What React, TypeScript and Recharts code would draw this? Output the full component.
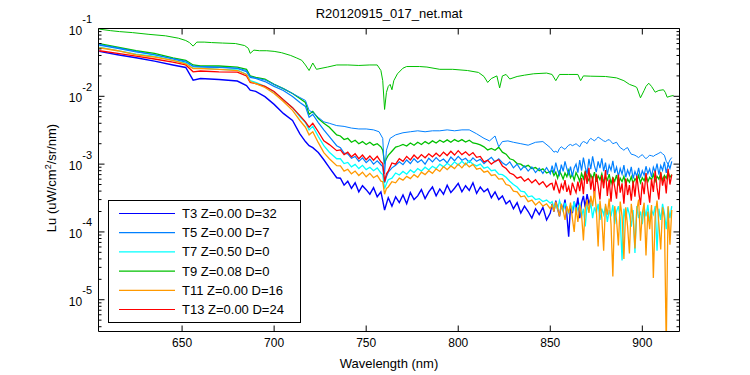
import React from 'react';
import { LineChart, Line, XAxis, YAxis } from 'recharts';

const W = 750;
const H = 375;
const PLOT = { left: 98.5, top: 28.5, right: 679.5, bottom: 331.5 };
const FONT = '"Liberation Sans", Arial, Helvetica, sans-serif';

// wavelength grid (nm) for the noisy cast spectra
const wavelengths = [
  605, 615, 625, 635, 645, 652, 656, 660, 670, 680,
  685, 687, 690, 695, 700, 705, 710, 714, 717, 719,
  721, 724, 727, 730, 734,
  736, 738, 740, 742, 744, 746, 748, 750, 752, 754, 756, 758,
  759, 760, 761,
  762, 764, 766, 768, 770, 772, 774, 776, 778, 780,
  782, 784, 786, 788, 790, 792, 794, 796, 798, 800,
  802, 804, 806, 808, 810, 812, 814, 816, 818, 820,
  822, 824, 826, 828, 830, 832, 834, 836, 838, 840,
  842, 844, 846, 848, 850,
  851, 852, 853, 854, 855, 856, 857, 858, 859, 860,
  861, 862, 863, 864, 865, 866, 867, 868, 869, 870,
  871, 872, 873, 874, 875, 876, 877, 878, 879, 880,
  881, 882, 883, 884, 885, 886, 887, 888, 889, 890,
  891, 892, 893, 894, 895, 896, 897, 898, 899, 900,
  901, 902, 903, 904, 905, 906, 907, 908, 909, 910,
  911, 912, 913, 914, 915, 916,
];

// T3 stops at 872 nm
const t3Values = [
  4.6e-2, 4.1e-2, 3.7e-2, 3.3e-2, 2.9e-2, 2.66e-2, 1.73e-2, 1.83e-2, 1.77e-2, 1.68e-2,
  1.44e-2, 1.23e-2, 1.18e-2, 9.9e-3, 7.6e-3, 5.6e-3, 4.4e-3, 2.8e-3, 2.15e-3, 1.87e-3,
  1.75e-3, 1.48e-3, 1.16e-3, 8.9e-4, 6.3e-4,
  6.2e-4, 4.9e-4, 5.6e-4, 4.4e-4, 5.3e-4, 3.9e-4, 4.8e-4, 4.2e-4, 3.6e-4, 4.5e-4, 3.3e-4, 3.9e-4,
  2.9e-4, 2.1e-4, 2.6e-4,
  3.2e-4, 2.4e-4, 3.3e-4, 2.7e-4, 3.5e-4, 2.6e-4, 3.8e-4, 3.0e-4, 3.4e-4, 4.2e-4,
  3.1e-4, 3.9e-4, 4.6e-4, 3.4e-4, 4.3e-4, 3.6e-4, 4.9e-4, 3.8e-4, 4.4e-4, 5.2e-4,
  3.9e-4, 4.8e-4, 4.1e-4, 5.3e-4, 3.7e-4, 4.6e-4, 3.9e-4, 4.3e-4, 3.2e-4, 3.9e-4,
  3.0e-4, 3.4e-4, 2.6e-4, 2.9e-4, 2.2e-4, 2.7e-4, 1.9e-4, 2.4e-4, 2.0e-4, 1.6e-4,
  2.2e-4, 1.8e-4, 2.3e-4, 1.5e-4, 1.9e-4,
  2.6e-4, 2.0e-4, 2.9e-4, 2.2e-4, 1.7e-4, 2.5e-4, 2.1e-4, 3.0e-4, 1.8e-4, 8.5e-5,
  2.4e-4, 1.9e-4, 2.8e-4, 2.2e-4, 3.2e-4, 1.6e-4, 2.7e-4, 3.4e-4, 2.3e-4, 3.6e-4,
  2.6e-4, 3.1e-4,
];

const t5Values = [
  5.7e-2, 5.1e-2, 4.5e-2, 4.1e-2, 3.55e-2, 3.2e-2, 2.75e-2, 2.7e-2, 2.66e-2, 2.57e-2,
  2.3e-2, 1.9e-2, 1.83e-2, 1.65e-2, 1.4e-2, 1.22e-2, 9.9e-3, 8.1e-3, 7.1e-3, 4.9e-3,
  5.4e-3, 4.1e-3, 3.2e-3, 2.55e-3, 1.87e-3,
  1.75e-3, 1.45e-3, 1.42e-3, 1.22e-3, 1.3e-3, 1.1e-3, 1.24e-3, 1.05e-3, 1.18e-3, 1.0e-3, 1.12e-3, 9.8e-4,
  9.2e-4, 5.3e-4, 6.5e-4,
  7.6e-4, 8.8e-4, 9.6e-4, 1.08e-3, 9.8e-4, 1.15e-3, 1.02e-3, 1.2e-3, 1.06e-3, 1.16e-3,
  1.0e-3, 1.22e-3, 1.08e-3, 1.25e-3, 1.1e-3, 1.19e-3, 1.04e-3, 1.27e-3, 1.12e-3, 1.3e-3,
  1.14e-3, 1.22e-3, 1.06e-3, 1.24e-3, 1.1e-3, 1.18e-3, 1.02e-3, 1.14e-3, 1.26e-3, 1.08e-3,
  1.2e-3, 1.05e-3, 9.6e-4, 1.08e-3, 8.8e-4, 1.0e-3, 8.2e-4, 9.4e-4, 7.9e-4, 9.1e-4,
  7.5e-4, 8.7e-4, 7.3e-4, 8.9e-4, 7.2e-4,
  9.5e-4, 7.4e-4, 1.05e-3, 8.2e-4, 6.9e-4, 9.8e-4, 7.8e-4, 1.1e-3, 8.6e-4, 7.1e-4,
  9.2e-4, 6.6e-4, 8.8e-4, 1.0e-3, 7.5e-4, 1.15e-3, 8.0e-4, 1.25e-3, 9.0e-4, 7.2e-4,
  1.2e-3, 8.4e-4, 1.3e-3, 9.4e-4, 7.6e-4, 1.1e-3, 8.7e-4, 1.22e-3, 7.9e-4, 1.05e-3,
  7.0e-4, 9.6e-4, 8.1e-4, 1.12e-3, 7.4e-4, 9.0e-4, 6.6e-4, 8.6e-4, 7.1e-4, 9.7e-4,
  6.4e-4, 8.2e-4, 6.9e-4, 9.1e-4, 6.1e-4, 7.8e-4, 6.6e-4, 8.8e-4, 6.3e-4, 8.0e-4,
  6.8e-4, 9.3e-4, 7.2e-4, 8.5e-4, 6.5e-4, 9.0e-4, 7.6e-4, 1.02e-3, 7.0e-4, 9.5e-4,
  8.1e-4, 1.08e-3, 7.4e-4, 1.0e-3, 8.6e-4, 1.1e-3,
];

const t7Values = [
  5.3e-2, 4.7e-2, 4.2e-2, 3.9e-2, 3.4e-2, 3.1e-2, 2.6e-2, 2.6e-2, 2.5e-2, 2.45e-2,
  2.1e-2, 1.7e-2, 1.6e-2, 1.4e-2, 1.16e-2, 8.9e-3, 6.8e-3, 5.0e-3, 4.1e-3, 3.2e-3,
  3.6e-3, 2.55e-3, 1.87e-3, 1.5e-3, 1.2e-3,
  1.2e-3, 1.02e-3, 1.06e-3, 9.1e-4, 9.9e-4, 8.6e-4, 9.6e-4, 8.3e-4, 9.0e-4, 8.0e-4, 8.8e-4, 7.4e-4,
  7.0e-4, 4.35e-4, 5.15e-4,
  5.9e-4, 6.2e-4, 7.4e-4, 6.9e-4, 7.8e-4, 7.1e-4, 8.2e-4, 7.5e-4, 8.6e-4, 7.9e-4,
  9.0e-4, 8.2e-4, 9.3e-4, 8.6e-4, 1.0e-3, 9.1e-4, 1.03e-3, 9.4e-4, 1.08e-3, 9.7e-4,
  1.1e-3, 9.8e-4, 1.12e-3, 1.0e-3, 9.4e-4, 1.0e-3, 8.7e-4, 9.1e-4, 8.0e-4, 8.2e-4,
  7.1e-4, 7.0e-4, 6.4e-4, 5.6e-4, 5.0e-4, 4.6e-4, 4.0e-4, 3.9e-4, 3.3e-4, 3.4e-4,
  3.0e-4, 3.1e-4, 2.8e-4, 2.95e-4, 2.65e-4,
  2.8e-4, 2.3e-4, 2.6e-4, 2.1e-4, 2.9e-4, 2.4e-4, 2.0e-4, 2.7e-4, 2.2e-4, 1.9e-4,
  2.5e-4, 2.1e-4, 2.8e-4, 1.8e-4, 2.3e-4, 2.6e-4, 1.7e-4, 2.2e-4, 1.2e-4, 2.5e-4,
  2.0e-4, 2.7e-4, 1.6e-4, 2.3e-4, 1.9e-4, 2.6e-4, 1.5e-4, 2.2e-4, 1.8e-4, 2.4e-4,
  1.4e-4, 2.1e-4, 1.7e-4, 2.5e-4, 1.3e-4, 2.0e-4, 2.4e-4, 1.6e-4, 3.8e-5, 2.2e-4,
  1.5e-4, 2.3e-4, 1.8e-4, 1.2e-4, 2.1e-4, 4.9e-5, 2.4e-4, 1.6e-4, 2.0e-4, 1.3e-4,
  2.3e-4, 1.7e-4, 2.5e-4, 1.4e-4, 2.1e-4, 1.8e-4, 2.4e-4, 5.3e-5, 2.2e-4, 1.5e-4,
  2.6e-4, 1.9e-4, 1.1e-4, 2.3e-4, 1.6e-4, 2.4e-4,
];

const t9Values = [
  6.0e-2, 5.3e-2, 4.7e-2, 4.3e-2, 3.7e-2, 3.4e-2, 2.9e-2, 2.8e-2, 2.8e-2, 2.7e-2,
  2.5e-2, 2.0e-2, 1.9e-2, 1.8e-2, 1.5e-2, 1.3e-2, 1.1e-2, 9.3e-3, 8.1e-3, 5.4e-3,
  6.0e-3, 4.7e-3, 4.0e-3, 3.5e-3, 2.7e-3,
  2.6e-3, 2.3e-3, 2.4e-3, 2.1e-3, 2.25e-3, 2.0e-3, 2.15e-3, 1.95e-3, 2.1e-3, 1.9e-3, 2.0e-3, 1.8e-3,
  1.6e-3, 1.05e-3, 1.2e-3,
  1.35e-3, 1.55e-3, 1.78e-3, 1.85e-3, 1.95e-3, 1.85e-3, 2.05e-3, 1.9e-3, 2.1e-3, 1.95e-3,
  2.15e-3, 2.0e-3, 2.2e-3, 2.05e-3, 2.25e-3, 2.1e-3, 2.28e-3, 2.1e-3, 2.3e-3, 2.15e-3,
  2.3e-3, 2.12e-3, 2.25e-3, 2.05e-3, 2.0e-3, 1.92e-3, 1.8e-3, 1.62e-3, 1.7e-3, 1.6e-3,
  1.78e-3, 1.5e-3, 1.4e-3, 1.2e-3, 1.15e-3, 1.02e-3, 1.0e-3, 9.1e-4, 9.6e-4, 8.6e-4,
  8.9e-4, 8.0e-4, 8.5e-4, 7.4e-4, 7.8e-4,
  8.0e-4, 6.8e-4, 7.6e-4, 6.2e-4, 7.9e-4, 7.0e-4, 6.0e-4, 7.4e-4, 6.5e-4, 8.1e-4,
  6.3e-4, 7.1e-4, 5.8e-4, 7.5e-4, 6.6e-4, 5.6e-4, 7.3e-4, 6.1e-4, 7.8e-4, 6.4e-4,
  5.7e-4, 7.0e-4, 6.0e-4, 7.6e-4, 5.5e-4, 6.7e-4, 5.9e-4, 7.2e-4, 5.4e-4, 6.5e-4,
  5.8e-4, 7.1e-4, 5.2e-4, 6.3e-4, 5.6e-4, 6.9e-4, 5.1e-4, 6.2e-4, 5.5e-4, 6.6e-4,
  5.0e-4, 6.0e-4, 5.4e-4, 6.5e-4, 5.2e-4, 6.1e-4, 5.6e-4, 6.8e-4, 5.3e-4, 6.3e-4,
  5.7e-4, 6.9e-4, 5.5e-4, 6.4e-4, 5.9e-4, 7.1e-4, 5.6e-4, 6.6e-4, 6.0e-4, 7.3e-4,
  5.8e-4, 6.8e-4, 6.2e-4, 7.6e-4, 6.4e-4, 7.0e-4,
];

const t11Values = [
  5.2e-2, 4.7e-2, 4.1e-2, 3.8e-2, 3.4e-2, 3.0e-2, 2.57e-2, 2.57e-2, 2.5e-2, 2.4e-2,
  2.1e-2, 1.65e-2, 1.54e-2, 1.35e-2, 1.1e-2, 8.4e-3, 6.2e-3, 4.4e-3, 3.5e-3, 2.7e-3,
  3.0e-3, 2.07e-3, 1.48e-3, 1.2e-3, 9.5e-4,
  9.4e-4, 7.9e-4, 8.4e-4, 7.2e-4, 7.9e-4, 6.8e-4, 7.6e-4, 6.5e-4, 7.3e-4, 6.3e-4, 6.8e-4, 5.6e-4,
  5.5e-4, 3.6e-4, 4.35e-4,
  4.6e-4, 5.5e-4, 5.3e-4, 6.2e-4, 5.8e-4, 6.6e-4, 6.1e-4, 7.0e-4, 6.4e-4, 7.6e-4,
  7.0e-4, 8.0e-4, 7.3e-4, 8.5e-4, 7.8e-4, 9.2e-4, 8.3e-4, 9.4e-4, 8.6e-4, 1.0e-3,
  8.8e-4, 1.03e-3, 9.1e-4, 9.9e-4, 8.4e-4, 8.7e-4, 7.6e-4, 7.9e-4, 6.8e-4, 7.0e-4,
  6.0e-4, 6.1e-4, 5.0e-4, 4.8e-4, 4.0e-4, 3.9e-4, 3.3e-4, 3.4e-4, 2.8e-4, 2.95e-4,
  2.5e-4, 2.8e-4, 2.4e-4, 2.6e-4, 2.2e-4,
  2.5e-4, 2.0e-4, 2.8e-4, 2.2e-4, 1.7e-4, 2.6e-4, 2.1e-4, 1.5e-4, 2.4e-4, 1.9e-4,
  2.7e-4, 1.6e-4, 1.0e-4, 2.3e-4, 1.4e-4, 2.5e-4, 1.8e-4, 7.5e-5, 2.2e-4, 3.0e-4,
  1.9e-4, 3.4e-4, 2.4e-4, 4.0e-4, 2.2e-4, 6.1e-5, 2.9e-4, 1.6e-4, 5.3e-5, 2.6e-4,
  1.8e-4, 3.1e-4, 1.3e-4, 2.2e-5, 2.4e-4, 1.5e-4, 6.3e-5, 2.8e-4, 1.7e-4, 4.0e-5,
  2.3e-4, 1.2e-4, 4.8e-5, 2.6e-4, 1.6e-4, 5.7e-5, 2.1e-4, 3.0e-4, 7.4e-5, 1.9e-4,
  2.7e-4, 4.5e-5, 2.0e-4, 1.1e-4, 2.5e-4, 2.1e-5, 1.8e-4, 2.9e-4, 1.3e-4, 5.5e-5,
  2.3e-4, 1.6e-4, 2.0e-6, 2.4e-4, 6.5e-5, 2.1e-4,
];

const t13Values = [
  4.7e-2, 4.3e-2, 3.9e-2, 3.55e-2, 3.2e-2, 2.9e-2, 2.3e-2, 2.36e-2, 2.3e-2, 2.28e-2,
  2.0e-2, 1.6e-2, 1.54e-2, 1.4e-2, 1.18e-2, 8.9e-3, 6.8e-3, 5.2e-3, 4.2e-3, 3.5e-3,
  4.0e-3, 3.0e-3, 2.2e-3, 1.94e-3, 1.58e-3,
  1.62e-3, 1.38e-3, 1.5e-3, 1.28e-3, 1.42e-3, 1.2e-3, 1.36e-3, 1.16e-3, 1.32e-3, 1.14e-3, 1.3e-3, 1.08e-3,
  1.02e-3, 5.5e-4, 7.2e-4,
  7.9e-4, 1.04e-3, 1.0e-3, 1.2e-3, 1.1e-3, 1.3e-3, 1.15e-3, 1.36e-3, 1.2e-3, 1.38e-3,
  1.24e-3, 1.42e-3, 1.28e-3, 1.45e-3, 1.3e-3, 1.5e-3, 1.34e-3, 1.55e-3, 1.36e-3, 1.58e-3,
  1.38e-3, 1.52e-3, 1.34e-3, 1.48e-3, 1.26e-3, 1.3e-3, 1.08e-3, 1.14e-3, 1.0e-3, 1.1e-3,
  1.16e-3, 9.4e-4, 8.6e-4, 7.4e-4, 7.0e-4, 6.2e-4, 6.5e-4, 5.6e-4, 6.1e-4, 5.3e-4,
  5.9e-4, 5.0e-4, 5.5e-4, 4.6e-4, 5.1e-4,
  5.2e-4, 4.1e-4, 5.6e-4, 4.6e-4, 3.7e-4, 5.0e-4, 4.3e-4, 5.8e-4, 3.9e-4, 4.7e-4,
  3.5e-4, 5.3e-4, 4.4e-4, 3.8e-4, 5.5e-4, 4.0e-4, 6.2e-4, 3.6e-4, 7.8e-4, 5.1e-4,
  8.8e-4, 4.2e-4, 6.6e-4, 3.3e-4, 7.2e-4, 4.8e-4, 3.0e-4, 6.9e-4, 4.4e-4, 8.2e-4,
  3.4e-4, 5.9e-4, 2.8e-4, 6.4e-4, 4.6e-4, 3.1e-4, 7.0e-4, 3.8e-4, 5.2e-4, 2.6e-4,
  6.1e-4, 3.5e-4, 4.9e-4, 2.9e-4, 5.6e-4, 3.3e-4, 6.8e-4, 4.0e-4, 2.5e-4, 5.4e-4,
  3.6e-4, 7.4e-4, 4.3e-4, 2.7e-4, 6.0e-4, 3.9e-4, 8.0e-4, 4.5e-4, 3.0e-4, 7.6e-4,
  4.8e-4, 6.6e-4, 3.7e-4, 8.5e-4, 5.0e-4, 7.0e-4,
];

// the smoother upper T5 spectrum is sampled more coarsely
const thinWavelengths = [
  605, 615, 625, 635, 645, 652, 656, 660, 670, 680,
  685, 687, 690, 695, 700, 705, 710, 714, 717, 719,
  721, 724, 727, 730, 734, 738, 742, 746, 750, 754,
  757, 759, 760, 761, 763, 766, 770, 774, 778, 782,
  786, 790, 794, 798, 802, 806, 810, 814, 817, 820,
  822, 824, 827, 830, 834, 838, 842, 846, 850,
  851, 852, 853, 854, 855, 856, 857, 858, 859, 860,
  861, 862, 863, 864, 865, 866, 867, 868, 869, 870,
  871, 872, 873, 874, 875, 876, 877, 878, 879, 880,
  881, 882, 883, 884, 885, 886, 887, 888, 889, 890,
  891, 892, 893, 894, 895, 896, 897, 898, 899, 900,
  901, 902, 903, 904, 905, 906, 907, 908, 909, 910,
  911, 912, 913, 914, 915, 916,
];
const t5bValues = [
  5.8e-2, 5.2e-2, 4.6e-2, 4.1e-2, 3.6e-2, 3.3e-2, 2.8e-2, 2.75e-2, 2.7e-2, 2.6e-2,
  2.4e-2, 1.96e-2, 1.86e-2, 1.74e-2, 1.5e-2, 1.3e-2, 1.1e-2, 9.6e-3, 8.7e-3, 6.2e-3,
  5.8e-3, 4.9e-3, 4.2e-3, 4.0e-3, 3.7e-3, 3.6e-3, 3.4e-3, 3.3e-3, 3.3e-3, 3.2e-3,
  3.0e-3, 2.4e-3, 7.2e-4, 1.6e-3, 2.4e-3, 2.7e-3, 2.9e-3, 3.0e-3, 3.1e-3, 3.0e-3,
  3.1e-3, 3.1e-3, 3.2e-3, 3.1e-3, 3.2e-3, 3.2e-3, 2.8e-3, 2.4e-3, 2.2e-3, 2.6e-3,
  1.8e-3, 2.15e-3, 2.2e-3, 2.1e-3, 2.0e-3, 1.9e-3, 2.1e-3, 2.15e-3, 1.75e-3,
  1.62e-3, 1.5e-3, 1.55e-3, 1.48e-3, 1.7e-3, 1.8e-3, 1.72e-3, 1.65e-3, 1.78e-3, 1.9e-3,
  1.95e-3, 1.87e-3, 1.93e-3, 2.0e-3, 1.9e-3, 1.8e-3, 2.05e-3, 2.15e-3, 2.1e-3, 2.0e-3,
  2.25e-3, 2.4e-3, 2.3e-3, 2.2e-3, 2.35e-3, 2.5e-3, 2.4e-3, 2.3e-3, 2.2e-3, 2.15e-3,
  2.25e-3, 2.3e-3, 2.15e-3, 2.0e-3, 2.05e-3, 2.1e-3, 1.9e-3, 1.75e-3, 1.68e-3, 1.6e-3,
  1.7e-3, 1.75e-3, 1.55e-3, 1.4e-3, 1.38e-3, 1.35e-3, 1.3e-3, 1.25e-3, 1.32e-3, 1.38e-3,
  1.28e-3, 1.2e-3, 1.28e-3, 1.35e-3, 1.33e-3, 1.3e-3, 1.36e-3, 1.4e-3, 1.45e-3, 1.5e-3,
  1.42e-3, 1.35e-3, 1.1e-3, 1.0e-3, 1.15e-3, 1.25e-3,
];

// the coarse upper green spectrum has its own wavelengths
const refWavelengths = [
  605, 611, 616, 623, 632, 641, 648, 652, 654, 656,
  658, 662, 666, 672, 679, 684, 686, 687, 689, 692,
  696, 700, 704, 709, 712, 715, 717, 719, 721, 723,
  726, 729, 734, 740, 746, 752, 756, 758, 759, 760,
  761, 762, 763, 764, 765, 767, 770, 772, 779, 783,
  790, 797, 805, 811, 814, 816, 818, 821, 822.5, 824,
  826, 828, 832, 836, 841, 848, 851, 853, 855, 860,
  865, 866.5, 868, 872, 880, 886, 890, 893, 896, 897,
  899, 901, 902, 903.5, 905, 907, 909, 911.5, 912.5, 913.5,
  915, 917,
];
const t9RefValues = [
  9.8e-2, 9.3e-2, 9.0e-2, 8.7e-2, 8.2e-2, 7.8e-2, 7.2e-2, 6.65e-2, 6.2e-2, 5.5e-2,
  6.3e-2, 6.3e-2, 6.2e-2, 6.1e-2, 6.0e-2, 5.6e-2, 5.1e-2, 4.3e-2, 4.8e-2, 4.7e-2,
  4.7e-2, 4.6e-2, 4.4e-2, 4.0e-2, 3.7e-2, 3.4e-2, 2.9e-2, 2.4e-2, 3.1e-2, 2.5e-2,
  2.6e-2, 2.7e-2, 2.9e-2, 2.9e-2, 2.85e-2, 2.9e-2, 2.9e-2, 2.4e-2, 1.7e-2, 6.4e-3,
  1.14e-2, 1.4e-2, 1.5e-2, 1.25e-2, 1.7e-2, 2.15e-2, 2.6e-2, 2.75e-2, 2.75e-2, 2.7e-2,
  2.5e-2, 2.5e-2, 2.4e-2, 2.25e-2, 1.96e-2, 1.6e-2, 1.83e-2, 2.0e-2, 1.33e-2, 2.0e-2,
  2.1e-2, 1.8e-2, 1.96e-2, 2.05e-2, 2.15e-2, 2.2e-2, 2.1e-2, 1.7e-2, 2.1e-2, 2.1e-2,
  2.1e-2, 1.7e-2, 2.0e-2, 1.98e-2, 1.96e-2, 1.87e-2, 1.7e-2, 1.5e-2, 1.4e-2, 1.35e-2,
  9.5e-3, 1.22e-2, 1.4e-2, 1.56e-2, 1.4e-2, 1.15e-2, 1.22e-2, 1.25e-2, 1.14e-2, 9.7e-3,
  1.0e-2, 1.03e-2,
];

const xTicks = [650, 700, 750, 800, 850, 900];
const yDecades = [1e-6, 1e-5, 1e-4, 1e-3, 1e-2, 1e-1];
const minorSteps = [2, 3, 4, 5, 6, 7, 8, 9];
const X_DOMAIN: [number, number] = [604.6, 920.2];
const Y_DOMAIN: [number, number] = [3.4e-6, 0.1];

const yTicks: number[] = [];
yDecades.forEach((d) => {
  if (d >= Y_DOMAIN[0]) yTicks.push(d);
  if (d < Y_DOMAIN[1]) {
    minorSteps.forEach((m) => {
      const v = m * d;
      if (v >= Y_DOMAIN[0] && v <= Y_DOMAIN[1]) yTicks.push(v);
    });
  }
});

const isMajor = (v: number) => Math.abs(Math.log10(v) - Math.round(Math.log10(v))) < 1e-9;

const legendItems = [
  { label: 'T3 Z=0.00 D=32', color: '#0000ff' },
  { label: 'T5 Z=0.00 D=7', color: '#0080ff' },
  { label: 'T7 Z=0.50 D=0', color: '#00ffff' },
  { label: 'T9 Z=0.08 D=0', color: '#00c000' },
  { label: 'T11 Z=0.00 D=16', color: '#ff9900' },
  { label: 'T13 Z=0.00 D=24', color: '#ff0000' },
];

const series = [
  { key: 't9ref', color: '#00c000', x: refWavelengths, y: t9RefValues, w: 1 },
  { key: 't9', color: '#00c000', x: wavelengths, y: t9Values, w: 1.3 },
  { key: 't5', color: '#0080ff', x: wavelengths, y: t5Values, w: 1.2 },
  { key: 't5b', color: '#0080ff', x: thinWavelengths, y: t5bValues, w: 1 },
  { key: 't3', color: '#0000ff', x: wavelengths, y: t3Values, w: 1.4 },
  { key: 't7', color: '#00ffff', x: wavelengths, y: t7Values, w: 1.3 },
  { key: 't13', color: '#ff0000', x: wavelengths, y: t13Values, w: 1.3 },
  { key: 't11', color: '#ff9900', x: wavelengths, y: t11Values, w: 1.3 },
];

const BottomTick = (props: any) => {
  const { x, payload } = props;
  return (
    <g>
      <line x1={x} x2={x} y1={PLOT.bottom} y2={PLOT.bottom - 6} stroke="#000" />
      <text x={x} y={347} textAnchor="middle" fontSize={12} fontFamily={FONT} fill="#000">
        {payload.value}
      </text>
    </g>
  );
};

const TopTick = (props: any) => {
  const { x } = props;
  return <line x1={x} x2={x} y1={PLOT.top} y2={PLOT.top + 6} stroke="#000" />;
};

const LeftTick = (props: any) => {
  const { y, payload } = props;
  const v = payload.value;
  const major = isMajor(v);
  return (
    <g>
      <line x1={PLOT.left} x2={PLOT.left + (major ? 6 : 3)} y1={y} y2={y} stroke="#000" />
      {major && (
        <text x={92} y={y + 6} textAnchor="end" fontSize={12} fontFamily={FONT} fill="#000">
          <tspan>10</tspan>
          <tspan dy={-11.5} fontSize={11}>{String(Math.round(Math.log10(v)))}</tspan>
        </text>
      )}
    </g>
  );
};

const RightTick = (props: any) => {
  const { y, payload } = props;
  const major = isMajor(payload.value);
  return <line x1={PLOT.right} x2={PLOT.right - (major ? 6 : 3)} y1={y} y2={y} stroke="#000" />;
};

export default function App() {
  return (
    <div style={{ position: 'absolute', left: 0, top: 0, width: W, height: H, background: '#fff' }}>
      <LineChart width={W} height={H} margin={{ top: 0, right: 0, bottom: 13.5, left: 38.5 }}>
        <XAxis
          xAxisId="b"
          type="number"
          dataKey="wl"
          domain={X_DOMAIN}
          ticks={xTicks}
          interval={0}
          allowDataOverflow
          height={30}
          axisLine={{ stroke: '#000' }}
          tickLine={false}
          tick={BottomTick}
        />
        <XAxis
          xAxisId="t"
          orientation="top"
          type="number"
          dataKey="wl"
          domain={X_DOMAIN}
          ticks={xTicks}
          interval={0}
          allowDataOverflow
          height={28.5}
          axisLine={{ stroke: '#000' }}
          tickLine={false}
          tick={TopTick}
        />
        <YAxis
          yAxisId="l"
          type="number"
          scale="log"
          domain={Y_DOMAIN}
          ticks={yTicks}
          interval={0}
          allowDataOverflow
          width={60}
          axisLine={{ stroke: '#000' }}
          tickLine={false}
          tick={LeftTick}
        />
        <YAxis
          yAxisId="r"
          orientation="right"
          type="number"
          scale="log"
          domain={Y_DOMAIN}
          ticks={yTicks}
          interval={0}
          allowDataOverflow
          width={70.5}
          axisLine={{ stroke: '#000' }}
          tickLine={false}
          tick={RightTick}
        />
        {series.map((s) => (
          <Line
            key={s.key}
            xAxisId="b"
            yAxisId="l"
            data={s.y.map((v, i) => ({ wl: s.x[i], lu: v }))}
            dataKey="lu"
            type="linear"
            stroke={s.color}
            strokeWidth={s.w}
            dot={false}
            activeDot={false}
            isAnimationActive={false}
          />
        ))}
      </LineChart>

      <svg
        width={W}
        height={H}
        style={{ position: 'absolute', left: 0, top: 0, pointerEvents: 'none' }}
        fontFamily={FONT}
      >
        <text x={389} y={18} textAnchor="middle" fontSize={13} fill="#000">
          R20120915_017_net.mat
        </text>
        <text x={389} y={368} textAnchor="middle" fontSize={13} fill="#000">
          Wavelength (nm)
        </text>
        <text transform="translate(56,178) rotate(-90)" textAnchor="middle" fontSize={13} fill="#000">
          <tspan>Lu (uW/cm</tspan>
          <tspan dy={-5} fontSize={9}>2</tspan>
          <tspan dy={5}>/sr/nm)</tspan>
        </text>
        <g transform="translate(108,200)">
          <rect x={0.5} y={0.5} width={192} height={122} fill="#fff" stroke="#000" />
          {legendItems.map((it, i) => {
            const cy = 13.5 + i * 19.2;
            return (
              <g key={it.label}>
                <line x1={11} x2={67} y1={cy} y2={cy} stroke={it.color} strokeWidth={1.2} />
                <text x={74} y={cy + 4.5} fontSize={13} fill="#000">
                  {it.label}
                </text>
              </g>
            );
          })}
        </g>
      </svg>
    </div>
  );
}
